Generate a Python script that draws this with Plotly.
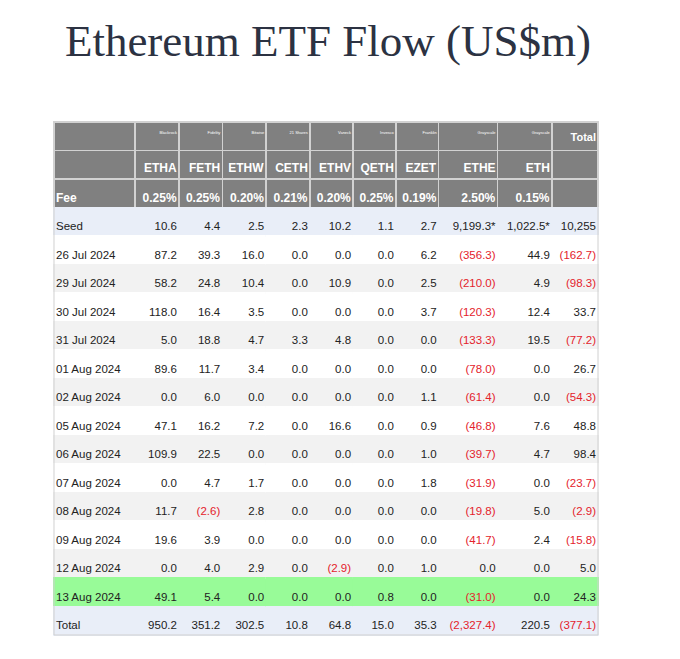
import plotly.graph_objects as go

# ---- data ----
providers = ["", "Blackrock", "Fidelity", "Bitwise", "21 Shares", "Vaneck",
             "Invesco", "Franklin", "Grayscale", "Grayscale", "Total"]
tickers = ["ETHA", "FETH", "ETHW", "CETH", "ETHV", "QETH", "EZET", "ETHE", "ETH"]
fees = ["0.25%", "0.25%", "0.20%", "0.21%", "0.20%", "0.25%", "0.19%", "2.50%", "0.15%"]
seed = [10.6, 4.4, 2.5, 2.3, 10.2, 1.1, 2.7, 9199.3, 1022.5, 10255]
seed_star = [False] * 7 + [True, True, False]

dates = ["26 Jul 2024", "29 Jul 2024", "30 Jul 2024", "31 Jul 2024",
         "01 Aug 2024", "02 Aug 2024", "05 Aug 2024", "06 Aug 2024",
         "07 Aug 2024", "08 Aug 2024", "09 Aug 2024", "12 Aug 2024",
         "13 Aug 2024"]

etha = [87.2, 58.2, 118.0, 5.0, 89.6, 0.0, 47.1, 109.9, 0.0, 11.7, 19.6, 0.0, 49.1]
feth = [39.3, 24.8, 16.4, 18.8, 11.7, 6.0, 16.2, 22.5, 4.7, -2.6, 3.9, 4.0, 5.4]
ethw = [16.0, 10.4, 3.5, 4.7, 3.4, 0.0, 7.2, 0.0, 1.7, 2.8, 0.0, 2.9, 0.0]
ceth = [0.0, 0.0, 0.0, 3.3, 0.0, 0.0, 0.0, 0.0, 0.0, 0.0, 0.0, 0.0, 0.0]
ethv = [0.0, 10.9, 0.0, 4.8, 0.0, 0.0, 16.6, 0.0, 0.0, 0.0, 0.0, -2.9, 0.0]
qeth = [0.0, 0.0, 0.0, 0.0, 0.0, 0.0, 0.0, 0.0, 0.0, 0.0, 0.0, 0.0, 0.8]
ezet = [6.2, 2.5, 3.7, 0.0, 0.0, 1.1, 0.9, 1.0, 1.8, 0.0, 0.0, 1.0, 0.0]
ethe = [-356.3, -210.0, -120.3, -133.3, -78.0, -61.4, -46.8, -39.7, -31.9, -19.8, -41.7, 0.0, -31.0]
eth = [44.9, 4.9, 12.4, 19.5, 0.0, 0.0, 7.6, 4.7, 0.0, 5.0, 2.4, 0.0, 0.0]
daily_total = [-162.7, -98.3, 33.7, -77.2, 26.7, -54.3, 48.8, 98.4, -23.7, -2.9, -15.8, 5.0, 24.3]

totals = [950.2, 351.2, 302.5, 10.8, 64.8, 15.0, 35.3, -2327.4, 220.5, -377.1]

# ---- styling ----
HEAD_BG = "#808080"
HEAD_LINE = "#d2d2d2"
BLUE_BG = "#e9eef8"
GREY_BG = "#f2f2f2"
WHITE_BG = "#ffffff"
GREEN_BG = "#98fb98"
TXT = "#222222"
RED = "#e4222c"
CLEAR = "rgba(0,0,0,0)"
ROW_H = 28.5
FONT = "Liberation Sans, Arial"

fund_cols = [etha, feth, ethw, ceth, ethv, qeth, ezet, ethe, eth, daily_total]


def fmt(v, star=False, whole=False):
    s = f"{abs(v):,.0f}" if whole else f"{abs(v):,.1f}"
    if star:
        s += "*"
    return f"({s})" if v < 0 else s


# row backgrounds below the first header row: ticker, fee, seed, dates..., total
n_dates = len(dates)
row_bg = [HEAD_BG, HEAD_BG, BLUE_BG]
for i in range(n_dates):
    if i == n_dates - 1:
        row_bg.append(GREEN_BG)
    else:
        row_bg.append(WHITE_BG if i % 2 == 0 else GREY_BG)
row_bg.append(BLUE_BG)
n_rows = len(row_bg)
fills = [row_bg[:] for _ in range(11)]
lines = [[HEAD_LINE, HEAD_LINE] + row_bg[2:] for _ in range(11)]

# text of the data block (seed row is used as that block's header)
seed_txt = ["Seed"] + [fmt(seed[j], seed_star[j], whole=(j == 9)) for j in range(10)]
seed_col = [TXT] + [RED if v < 0 else TXT for v in seed]
body_txt = [dates + ["Total"]]
body_col = [[TXT] * (n_dates + 1)]
for j in range(10):
    vals = fund_cols[j] + [totals[j]]
    body_txt.append([fmt(v) for v in vals])
    body_col.append([RED if v < 0 else TXT for v in vals])

# column widths (px) of the drawn cells
col_w = [81, 44, 43.4, 44, 43.6, 43.3, 42.8, 42.9, 58.9, 54.3, 46.2]
# text layers are shifted to tighten plotly's fixed cell padding
txt_left_shift = 6
txt_right_shift = 6
txt_w = [col_w[0] + txt_left_shift + txt_right_shift] + col_w[1:]

# page body adds an 8px margin, so the figure is drawn 8px smaller
W, H = 664, 643
table_left, table_top = 46, 114
table_w = sum(col_w)
plot_l = table_left - txt_left_shift
plot_r = table_left + table_w + txt_right_shift
plot_w = plot_r - plot_l
table_h = ROW_H * (n_rows + 1)
plot_h = table_h + 10

fig = go.Figure()

# background layer (fills and header grid)
fig.add_trace(go.Table(
    domain=dict(x=[txt_left_shift / plot_w, (txt_left_shift + table_w) / plot_w], y=[0, 1]),
    columnwidth=col_w,
    header=dict(values=[""] * 11, fill_color=HEAD_BG, height=ROW_H,
                line=dict(color=HEAD_LINE, width=1.5)),
    cells=dict(values=[[""] * n_rows for _ in range(11)], fill_color=fills,
               height=ROW_H, line=dict(color=lines, width=1.5)),
))


def text_layer(top, head, head_font, cells=None, cell_font=None, head_h=ROW_H):
    fig.add_trace(go.Table(
        domain=dict(x=[0, 1], y=[0, 1 - top / plot_h]),
        columnwidth=txt_w,
        header=dict(values=head, fill_color=CLEAR, height=head_h,
                    align=["left"] + ["right"] * 10,
                    line=dict(width=0, color=CLEAR), font=head_font),
        cells=dict(values=cells if cells else [[] for _ in range(11)],
                   fill_color=CLEAR, height=ROW_H,
                   align=["left"] + ["right"] * 10,
                   line=dict(width=0, color=CLEAR), font=cell_font),
    ))


# provider names (tiny) with the Total heading
text_layer(1, [f"<b>{p}</b>" if p == "Total" else p for p in providers],
           dict(family=FONT, color="white", size=[4] * 10 + [11]))
# ticker and fee rows
text_layer(ROW_H + 2.5, [""] + [f"<b>{t}</b>" for t in tickers] + [""],
           dict(family=FONT, color="white", size=12),
           cells=[["<b>Fee</b>"]] + [[f"<b>{f}</b>"] for f in fees] + [[""]],
           cell_font=dict(family=FONT, color="white", size=12), head_h=ROW_H + 1)
# seed, daily flows and totals
text_layer(3 * ROW_H + 5.5, seed_txt, dict(family=FONT, color=seed_col, size=11.5),
           cells=body_txt, cell_font=dict(family=FONT, color=body_col, size=11.5),
           head_h=ROW_H + 0.5)

# light outer border around the table
fig.add_shape(type="rect", xref="paper", yref="paper",
              x0=txt_left_shift / plot_w, x1=(txt_left_shift + table_w) / plot_w,
              y0=1 - table_h / plot_h, y1=1,
              line=dict(color="#d0d0d0", width=1))

fig.update_layout(
    width=W, height=H,
    margin=dict(l=plot_l, r=W - plot_r, t=table_top, b=H - table_top - plot_h),
    paper_bgcolor="white",
    title=dict(text="Ethereum ETF Flow (US$m)", x=320 / W, xanchor="center",
               yref="container", y=1 - 32 / H, yanchor="middle",
               font=dict(family="Liberation Serif, Times New Roman", size=45,
                         color="#2c3242")),
)

fig.write_html("out.html")
